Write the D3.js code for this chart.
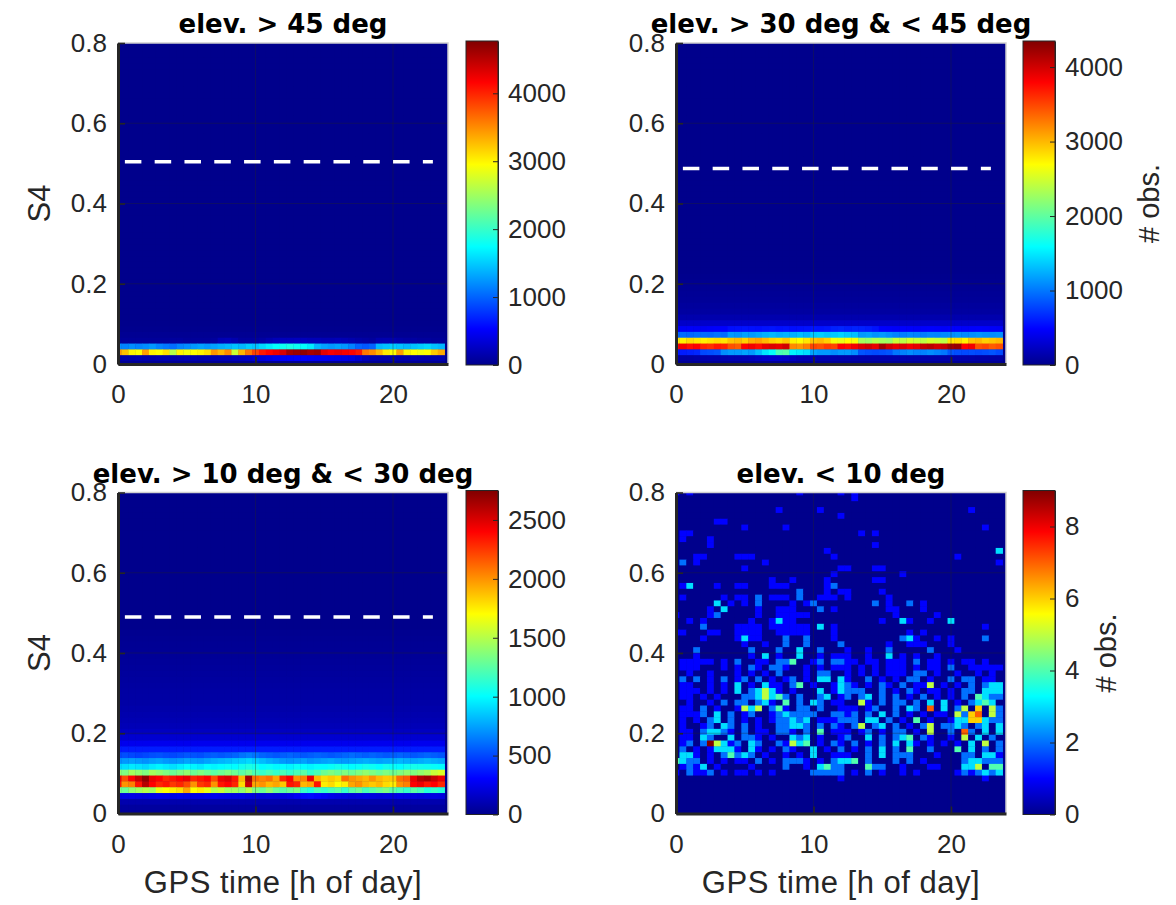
<!DOCTYPE html>
<html>
<head>
<meta charset="utf-8">
<script src="https://cdn.jsdelivr.net/npm/d3@7"></script>
<style>
  body { margin: 0; background: #fff; }
  svg { font-family: "Liberation Sans", Arial, Helvetica, sans-serif; }
</style>
</head>
<body>
<svg id="fig" width="1176" height="905"></svg>
<script>
// histogram bins: 48 columns of 0.5 h, 56 rows of 0.8/55 in S4 (centres on the bin values)
const nCols = 48, nRows = 56
const binW = 0.5, binH = 0.8 / 55

const titles = ['elev. > 45 deg', 'elev. > 30 deg & < 45 deg', 'elev. > 10 deg & < 30 deg', 'elev. < 10 deg']
const xTicks = [0, 10, 20]
const yTicks = [0, 0.2, 0.4, 0.6, 0.8]
const cbMax = [4770, 4350, 2750, 9]
const cbTicks = [[0, 1000, 2000, 3000, 4000], [0, 1000, 2000, 3000, 4000], [0, 500, 1000, 1500, 2000, 2500], [0, 2, 4, 6, 8]]
const s4Limit = [0.504, 0.487, 0.49, null]

// elev > 45: rows from S4 = 0 upward (number = same for every column)
const p1Bands = [
  40,
  [120,140,130,150,140,130,150,160,140,150,160,150,140,150,160,170,180,200,220,250,300,350,400,450,480,500,520,500,480,460,450,430,420,400,380,300,200,150,140,130,150,140,130,150,140,130,140,150],
  [3450,3250,3000,2950,3400,3000,2950,3100,2600,3000,2900,2950,3000,3100,3450,3300,3500,2700,3300,3600,3850,4050,4150,4250,4350,4600,4650,4700,4600,4650,4300,4200,4250,4200,4150,4050,3600,3500,3300,3050,2950,3400,3000,2950,2900,2950,3200,3350],
  [1200,1150,1200,1150,1200,1250,1150,1100,1050,1150,1200,1250,1300,1250,1300,1350,1400,1450,1400,1500,1450,1550,1650,1750,1800,1850,1800,1750,1650,1400,1300,1250,1300,1250,1150,1000,950,1000,1400,1450,1500,1450,1400,1450,1500,1550,1450,1400],
  [60,60,60,60,60,60,60,60,80,80,60,60,60,60,80,180,200,150,80,80,80,100,150,200,220,220,230,220,200,200,180,180,200,180,150,120,100,80,150,160,150,120,100,100,80,80,60,60]
]
const p1Fade = [30, 10]

// elev 30-45
const p2Bands = [
  40,
  [100,100,100,120,120,130,130,140,150,150,160,180,220,250,260,260,240,200,160,150,150,140,140,140,130,130,120,120,120,130,130,130,140,140,130,130,120,120,120,120,130,130,120,120,110,110,100,100],
  [580,600,620,650,800,820,850,1100,1150,1150,1200,1150,1300,1480,1600,1900,1950,1550,1500,1450,1200,1150,1150,1100,1150,1150,1100,850,820,800,820,850,1000,1050,1100,1050,1050,1100,1050,1000,850,820,800,820,800,820,850,800],
  [3800,3850,3750,3800,3650,3600,3700,3650,3450,3400,3800,3850,3750,3900,3950,3900,4000,3200,3150,3250,3500,3450,3550,3500,3800,3750,3850,3950,4000,3900,4200,4000,3900,3950,3850,3900,4050,4100,4000,4050,4200,4250,3800,3850,3450,3500,3400,3450],
  [2800,2750,2850,2800,2750,2800,2850,2800,2950,3000,2900,3050,3100,3000,2900,2850,2950,2750,2700,2800,2950,3000,2900,2650,2600,2700,2650,2300,2250,2350,2300,2250,2450,2400,2500,2450,2400,2500,2450,2400,2800,2850,2750,2950,3000,2900,2950,3000],
  [920,950,930,960,950,940,980,950,1150,1120,1180,1150,1200,1250,1280,1230,1260,1250,1300,1250,1350,1380,1330,1360,1400,1350,1320,1150,1180,1120,1150,1100,1050,1030,1070,1050,1020,1060,1050,1080,1100,1120,1080,1100,1130,1100,1090,1110],
  [440,450,460,450,440,460,470,480,540,550,560,550,540,560,570,550,560,540,550,560,570,560,580,620,640,610,630,620,600,560,480,470,460,480,470,460,470,480,470,460,480,470,460,470,480,470,460,450]
]
const p2Fade = [260, 140, 90, 70, 50, 40, 30, 20, 10]

// elev 10-30
const p3Bands = [
  30, 50, 90,
  [220,230,240,230,220,240,250,240,230,250,240,230,240,250,260,250,240,230,240,220,210,200,210,200,220,240,280,320,330,310,280,250,230,220,210,220,230,220,210,220,230,240,230,220,210,220,230,220],
  [1350,1300,1400,1450,1500,1450,1650,1700,1750,1800,1950,1700,1750,1650,1500,1550,1450,1450,1400,1500,1350,1300,1400,1300,1250,1300,1350,1150,1100,1200,1150,1200,1250,1150,1250,1300,1200,1250,1300,1350,1250,1200,1150,1250,1200,1100,1150,1100],
  [2350,2000,2050,2350,2600,2400,2300,2350,2250,2300,2200,2000,2250,2300,2000,2350,2400,2300,1800,2550,1950,2000,1900,1950,1850,2350,2300,1900,1950,2350,1750,1800,1700,1750,1950,2000,1900,1850,1900,1800,1750,2000,2050,2400,2450,2350,2400,2300],
  [2450,2200,2400,2550,2700,2450,2400,2300,2350,2400,2450,2300,2350,2400,2200,2450,2500,2350,1900,2650,2100,2050,2100,1950,2300,2400,2000,2050,2450,1900,1800,1850,1800,2100,2000,1950,1900,2000,1900,1850,1850,2100,2150,2450,2600,2650,2550,2450],
  [1400,1350,1450,1400,1350,1450,1400,1350,1300,1350,1400,1300,1350,1300,1250,1300,1350,1300,1250,1300,1200,1150,1200,1150,1200,1150,1200,1250,1150,1200,1300,1350,1300,1350,1300,1350,1400,1350,1300,1350,1300,1350,1400,1350,1400,1450,1550,1600],
  [900,920,950,930,900,950,980,950,920,960,1000,980,950,1000,980,1000,1020,1000,1050,1080,1050,1000,1020,990,1000,980,1020,1000,980,1010,1000,1020,1050,1030,1000,1020,1050,1030,1000,1050,1020,1000,1040,1060,1050,1040,1020,1000],
  [700,720,740,720,700,730,750,720,700,720,750,730,720,750,780,800,820,850,870,900,860,820,780,750,720,700,720,740,700,720,740,760,730,720,740,760,780,760,740,760,780,800,780,760,780,800,780,760],
  [500,520,500,480,500,520,530,510,500,520,540,530,520,550,560,540,560,580,620,650,620,580,560,540,560,580,560,540,560,580,560,540,560,580,600,580,560,580,560,540,560,580,560,540,560,580,560,540]
]
const p3Fade = [380, 260, 180, 140, 115, 100, 90, 80, 70, 65, 60, 55, 50, 45, 40, 35, 30, 25, 20, 15, 10]

// elev < 10: counts per cell, top row (S4 = 0.8) first, one digit per column
const p4Rows = [
  '10100000 00000000 00100000 10100000 00000000 00000000',
  '00000000 00000000 00000000 00100000 00000000 00000000',
  '00000000 00000000 00000000 00000000 00000000 00000000',
  '00000000 00000001 00000100 00000000 00000000 00010000',
  '00000000 00000000 00000000 10000000 00000000 00000000',
  '00000011 00000000 00000000 00000000 00000000 00000000',
  '00000000 00100000 10000000 00000000 00000000 00000100',
  '01100000 00000000 00000000 00010100 00000000 00000000',
  '01000100 00000000 00000000 00000000 00000000 00000000',
  '00000100 00000000 00000000 00000100 00000000 00000000',
  '00000000 00000000 00000010 00000000 00000000 00000003',
  '00011000 01110000 00000001 00000000 00000000 01000000',
  '02010000 00000100 00000000 00000000 00000000 00000001',
  '00000000 00100000 00000000 11000110 00000000 00000000',
  '00000000 00000000 00000001 00000000 01000000 00000000',
  '00000000 00000010 01000010 00000110 00000000 00000000',
  '01300010 01100011 10000012 00000000 00000000 00000000',
  '00000000 00000000 00200010 11000010 00000000 00000000',
  '01000001 01102011 10200111 01000001 00000000 00000000',
  '00000030 10102000 01012000 00000201 00201000 00000000',
  '00000103 00001001 11000201 00000001 10001000 00000000',
  '10000120 00001001 11110000 00000000 10000010 00000000',
  '00101000 00010013 11000000 00000010 03100100 30000000',
  '00002000 01111011 11110301 00000000 00000000 00000100',
  '11000110 01111001 11110001 00000000 00101000 00000000',
  '00001000 01311000 20020001 00000000 02310010 10000200',
  '00000000 00100100 20020000 20000001 00111000 10000000',
  '00020000 00020002 00300200 01001002 00000200 01000000',
  '00010000 00010301 00300101 11001003 01010010 00000000',
  '01111101 02001102 24001202 21101101 11020110 10110100',
  '01110001 01021022 10010101 11010101 11010110 20011111',
  '00100100 01010102 00010220 01010101 11022010 01001010',
  '02020102 01202010 12010330 31002010 10220100 20220110',
  '01100101 03010311 02401001 32101021 02011501 01020233',
  '01110101 03023531 01000301 32220020 10210110 10220333',
  '01101010 00223534 20200230 12023020 20102010 10204322',
  '00100102 02202310 40203201 10051020 22020303 01023430',
  '01102010 01535024 10220200 11101200 20320703 02506052',
  '01112030 20120012 32222002 21202030 20101011 05267052',
  '01010230 20101012 23230111 22203302 01040100 13366322',
  '01001203 20201002 23320202 10250230 20102502 23202303',
  '01102332 10201102 21020401 11012010 22010500 20720303',
  '01103200 30221010 03230100 12003020 23402100 10503020',
  '01202953 12032002 15340102 10201020 30310101 01030502',
  '02010133 31031010 21003010 20102030 20400200 04030202',
  '03310102 42320100 10103001 11002030 22200010 00220331',
  '43220101 01102010 22210102 33402000 20201000 00233222',
  '01213010 00010000 20010342 20004220 01000110 00335044',
  '10211201 01101010 00002222 20102010 01010000 01212323',
  '00000000 00000000 00000000 10000000 00000000 00000100',
  '00000000 00000000 00000000 00000000 00000000 00000000',
  '00000000 00000000 00000000 00000000 00000000 00000000',
  '00000000 00000000 00000000 00000000 00000000 00000000',
  '00000000 00000000 00000000 00000000 00000000 00000000',
  '00000000 00000000 00000000 00000000 00000000 00000000',
  '00000000 00000000 00000000 00000000 00000000 00000000'
]

const ink = '#262626'
const svg = d3.select('#fig')

// panel frames (pixels)
const frames = [
  {left: 118, right: 448, top: 43, bottom: 364, cbLeft: 466, ylab: true, xlab: false, obsX: null},
  {left: 676, right: 1006, top: 43, bottom: 364, cbLeft: 1023, ylab: false, xlab: false, obsX: 1159},
  {left: 118, right: 448, top: 492.5, bottom: 813.5, cbLeft: 466, ylab: true, xlab: true, obsX: null},
  {left: 676, right: 1006, top: 492.5, bottom: 813.5, cbLeft: 1023, ylab: false, xlab: true, obsX: 1116}
]

const jetStops = [0, 7 / 63, 23 / 63, 39 / 63, 55 / 63, 1]
const jetColors = ['#00008c', '#0000ff', '#00ffff', '#ffff00', '#ff0000', '#800000']
function jet(max) {
  return d3.scaleLinear().domain(jetStops.map(t => t * max)).range(jetColors).clamp(true)
}

function bandGrid(bands, fade) {
  return d3.range(nRows).map(r => {
    const j = nRows - 1 - r
    const row = j < bands.length ? bands[j] : (fade[j - bands.length] || 0)
    return d3.range(nCols).map(c => Array.isArray(row) ? row[c] : row)
  })
}
const grids = [
  bandGrid(p1Bands, p1Fade),
  bandGrid(p2Bands, p2Fade),
  bandGrid(p3Bands, p3Fade),
  p4Rows.map(s => s.replace(/ /g, '').split('').map(Number))
]

const defs = svg.append('defs')
const grad = defs.append('linearGradient').attr('id', 'jetGrad')
  .attr('x1', 0).attr('y1', 1).attr('x2', 0).attr('y2', 0)
grad.selectAll('stop').data(jetStops).join('stop')
  .attr('offset', d => d).attr('stop-color', (d, k) => jetColors[k])

frames.forEach((f, i) => {
  const x = d3.scaleLinear().domain([0, 24]).range([f.left, f.right])
  const y = d3.scaleLinear().domain([0, 0.8]).range([f.bottom, f.top])
  const color = jet(cbMax[i])
  const g = svg.append('g')

  defs.append('clipPath').attr('id', 'clip' + i).append('rect')
    .attr('x', f.left).attr('y', f.top).attr('width', f.right - f.left).attr('height', f.bottom - f.top)
  const plot = g.append('g').attr('clip-path', 'url(#clip' + i + ')')
  plot.append('rect')
    .attr('x', f.left).attr('y', f.top).attr('width', f.right - f.left).attr('height', f.bottom - f.top)
    .attr('fill', color(0))

  const cells = []
  grids[i].forEach((row, r) => row.forEach((v, c) => cells.push({r: r, c: c, v: v})))
  plot.selectAll('rect.cell').data(cells).join('rect').attr('class', 'cell')
    .attr('x', d => x(d.c * binW - binW / 2))
    .attr('width', x(binW) - x(0) + 0.4)
    .attr('y', d => y(0.8 - d.r * binH + binH / 2))
    .attr('height', y(0) - y(binH) + 0.4)
    .attr('fill', d => color(d.v))

  // grid lines
  plot.selectAll('line.gx').data(xTicks.slice(1)).join('line').attr('class', 'gx')
    .attr('x1', d => x(d)).attr('x2', d => x(d)).attr('y1', f.top).attr('y2', f.bottom)
    .attr('stroke', ink).attr('stroke-opacity', 0.35).attr('stroke-width', 1)
  plot.selectAll('line.gy').data(yTicks.slice(1, -1)).join('line').attr('class', 'gy')
    .attr('y1', d => y(d)).attr('y2', d => y(d)).attr('x1', f.left).attr('x2', f.right)
    .attr('stroke', ink).attr('stroke-opacity', 0.35).attr('stroke-width', 1)

  if (s4Limit[i] != null) {
    plot.append('line')
      .attr('x1', x(0.5)).attr('x2', x(22.9)).attr('y1', y(s4Limit[i])).attr('y2', y(s4Limit[i]))
      .attr('stroke', '#fff').attr('stroke-width', 3.5).attr('stroke-dasharray', '16.5,13.3')
  }

  // light box on top and right
  g.append('path')
    .attr('d', 'M' + f.left + ',' + f.top + 'H' + f.right + 'V' + f.bottom)
    .attr('fill', 'none').attr('stroke', '#d0d0d0').attr('stroke-width', 1.5)

  const yAxis = d3.axisLeft(y).tickValues(yTicks).tickFormat(d => String(d))
    .tickSizeInner(-7).tickSizeOuter(0).tickPadding(11)
  const ya = g.append('g').attr('transform', 'translate(' + f.left + ',0)').call(yAxis)
  const xAxis = d3.axisBottom(x).tickValues(xTicks).tickFormat(d => String(d))
    .tickSizeInner(-7).tickSizeOuter(0).tickPadding(21)
  const xa = g.append('g').attr('transform', 'translate(0,' + f.bottom + ')').call(xAxis)
  ;[ya, xa].forEach(a => {
    a.attr('font-size', 26).attr('font-family', null)
    a.select('.domain').attr('stroke', ink).attr('stroke-width', 3)
    a.selectAll('.tick line').attr('stroke', ink).attr('stroke-width', 1.6)
    a.selectAll('.tick text').attr('fill', ink)
  })

  // colorbar
  const cbTop = f.top - 2, cbBottom = f.bottom + 1, cbW = 32
  g.append('rect').attr('x', f.cbLeft).attr('y', cbTop).attr('width', cbW).attr('height', cbBottom - cbTop)
    .attr('fill', 'url(#jetGrad)').attr('stroke', ink).attr('stroke-width', 1)
  const cScale = d3.scaleLinear().domain([0, cbMax[i]]).range([cbBottom, cbTop])
  const cAxis = d3.axisRight(cScale).tickValues(cbTicks[i]).tickFormat(d => String(d))
    .tickSizeInner(-5).tickSizeOuter(0).tickPadding(10)
  const ca = g.append('g').attr('transform', 'translate(' + (f.cbLeft + cbW) + ',0)').call(cAxis)
  ca.attr('font-size', 26).attr('font-family', null)
  ca.select('.domain').attr('stroke', ink).attr('stroke-width', 1)
  ca.selectAll('.tick line').attr('stroke', ink).attr('stroke-width', 1)
  ca.selectAll('.tick text').attr('fill', ink)

  // texts
  g.append('text').attr('x', (f.left + f.right) / 2).attr('y', f.top - 10)
    .attr('text-anchor', 'middle').attr('font-size', 26).attr('font-weight', 'bold')
    .attr('font-family', '"DejaVu Sans", "Liberation Sans", sans-serif')
    .attr('fill', '#000').text(titles[i])
  if (f.ylab) {
    g.append('text').attr('transform', 'translate(50,' + (f.top + f.bottom) / 2 + ') rotate(-90)')
      .attr('text-anchor', 'middle').attr('font-size', 31).attr('fill', ink).text('S4')
  }
  if (f.xlab) {
    g.append('text').attr('x', (f.left + f.right) / 2).attr('y', 893)
      .attr('text-anchor', 'middle').attr('font-size', 31).attr('letter-spacing', 0.5)
      .attr('fill', ink).text('GPS time [h of day]')
  }
  if (f.obsX != null) {
    g.append('text').attr('transform', 'translate(' + f.obsX + ',' + (f.top + f.bottom) / 2 + ') rotate(-90)')
      .attr('text-anchor', 'middle').attr('font-size', 29).attr('fill', ink).text('# obs.')
  }
})
</script>
</body>
</html>
